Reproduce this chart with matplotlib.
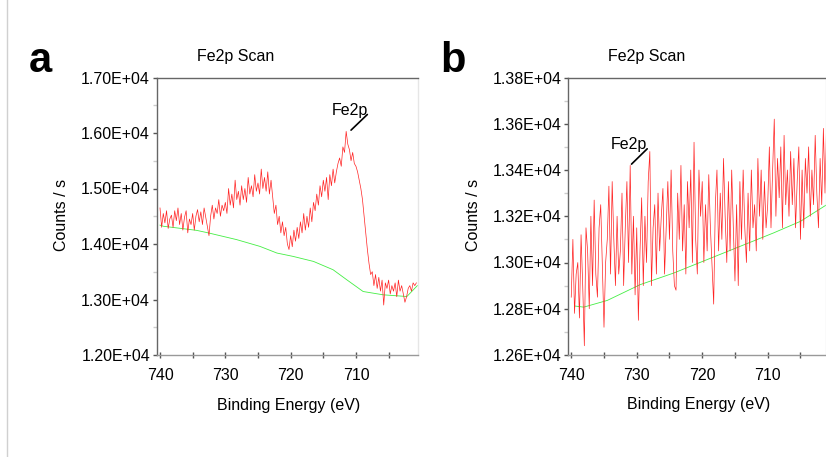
import numpy as np
import matplotlib
matplotlib.use('Agg')
import matplotlib.pyplot as plt
from matplotlib.ticker import MultipleLocator, FuncFormatter
from matplotlib.lines import Line2D

plt.rcParams['font.family'] = ['Liberation Sans', 'DejaVu Sans']
plt.rcParams['font.size'] = 11.5

# panel a: Fe2p spectrum, 0.25 eV steps from 740 eV downwards
counts_a = [
    14650, 14300, 14550, 14380, 14600, 14280, 14450, 14520,
    14300, 14600, 14420, 14650, 14350, 14550, 14250, 14480,
    14600, 14200, 14450, 14350, 14550, 14250, 14500, 14620,
    14400, 14580, 14350, 14650, 14480, 14300, 14150, 14500,
    14700, 14450, 14650, 14550, 14800, 14500, 14700, 14600,
    14750, 14550, 15000, 14700, 14900, 14650, 15150, 14800,
    14950, 14700, 15050, 14800, 15000, 14750, 15200, 14900,
    15050, 14850, 15250, 14950, 15100, 14900, 15350, 15000,
    15200, 14950, 15300, 14900, 15150, 14850, 14550, 14700,
    14350, 14500, 14200, 14400, 14150, 14300, 14000, 13900,
    14150, 13950, 14250, 14050, 14300, 14100, 14400, 14200,
    14550, 14250, 14500, 14300, 14650, 14400, 14750, 14600,
    14900, 14700, 15050, 14850, 15150, 14950, 15200, 14800,
    15250, 15050, 15350, 15100, 15300, 15450, 15550, 15400,
    15750, 15650, 16030, 15800, 15700, 15500, 15650, 15450,
    15400, 15300, 15150, 15000, 14800, 14500, 14200, 13900,
    13650, 13450, 13500, 13250, 13450, 13200, 13400, 13150,
    13350, 12900, 13300, 13200, 13350, 13100, 13250, 13150,
    13300, 13050, 13350, 13150, 13250, 13100, 12950, 13050,
    13200, 13250, 13150, 13300, 13250, 13300,
]
bg_a_energy = [740.0, 739.5, 734.4, 732.6, 728.3, 724.7, 722.1, 719.6, 716.5,
               713.5, 711.4, 708.9, 705.8, 702.2, 700.6]
bg_a_counts = [14340, 14320, 14246, 14200, 14080, 13957, 13837, 13776, 13686,
               13536, 13355, 13144, 13084, 13054, 13250]

# panel b: Fe2p spectrum, 0.25 eV steps from 740 eV downwards
counts_b = [
    12850, 13100, 12780, 12950, 13000, 12760, 13120, 12900,
    12640, 13150, 13050, 12800, 13200, 12900, 13270, 12950,
    12850, 13150, 13250, 12980, 12720, 13000, 13100, 13330,
    12950, 13350, 13100, 12900, 13200, 12950, 13050, 13300,
    12900, 13150, 13350, 13000, 13420, 12950, 13200, 12860,
    13150, 12750, 13050, 13280, 12900, 13200, 13000, 13350,
    13480, 12900, 13150, 13250, 12950, 13300, 13050, 13200,
    13320, 12950, 13150, 13350, 13100, 13400, 13050, 12900,
    12880, 13300, 13100, 13420, 13050, 13250, 12950, 13350,
    13150, 13400, 13000, 13520, 13100, 12950, 13400, 13200,
    13350, 13000, 13250, 13050, 13380, 13150, 12980, 12820,
    13250, 13400, 13050, 13300, 13100, 13450, 13200, 13000,
    13350, 13050, 13400, 13150, 12920, 13250, 12900, 13350,
    13100, 13400, 13150, 13000, 13300, 13050, 13400, 13150,
    13250, 13050, 13450, 13200, 13400, 13100, 13350, 13150,
    13250, 13500, 13150, 13400, 13620, 13200, 13450, 13280,
    13500, 13150, 13550, 13250, 13400, 13200, 13480, 13250,
    13450, 13150, 13350, 13500, 13100, 13400, 13150, 13450,
    13300, 13500, 13200, 13400, 13250, 13550, 13300, 13150,
    13450, 13250, 13580, 13300, 13620,
]
bg_b_energy = [739.5, 738.1, 734.5, 729.5, 724.4, 719.3, 714.2, 709.1, 705.0, 701.1]
bg_b_counts = [12812, 12807, 12836, 12904, 12954, 13012, 13070, 13128, 13178, 13248]

energy_a = np.linspace(740, 740 - 0.25 * (len(counts_a) - 1), len(counts_a))
energy_b = np.linspace(740, 740 - 0.25 * (len(counts_b) - 1), len(counts_b))

W, H = 826, 457
fig = plt.figure(figsize=(W / 100, H / 100), dpi=100)


def box(l, r, t, b):
    return [l / W, 1 - b / H, (r - l) / W, (b - t) / H]


def sci(v, pos):
    return '{:.2E}'.format(v)


def setup(ax, ylo, yhi, ystep, xl):
    ax.set_xlim(*xl)
    ax.set_ylim(ylo, yhi)
    ax.xaxis.set_major_locator(MultipleLocator(10))
    ax.xaxis.set_minor_locator(MultipleLocator(5))
    ax.yaxis.set_major_locator(MultipleLocator(ystep))
    ax.yaxis.set_minor_locator(MultipleLocator(ystep / 2))
    ax.yaxis.set_major_formatter(FuncFormatter(sci))
    ax.tick_params(axis='x', which='both', direction='inout', length=5,
                   width=1, color='#555555', pad=7, labelsize=11.5)
    ax.tick_params(axis='y', which='major', direction='out', length=3,
                   width=1, color='#555555', pad=2, labelsize=11.5)
    ax.tick_params(axis='y', which='minor', direction='out', length=3,
                   width=1, color='#cccccc')
    ax.spines['top'].set_color('#666666')
    ax.spines['left'].set_color('#666666')
    ax.spines['bottom'].set_color('#999999')
    ax.spines['right'].set_color('#e6e6e6')
    for s in ax.spines.values():
        s.set_linewidth(1)


ax1 = fig.add_axes(box(157, 418, 77.5, 355))
ax1.plot(bg_a_energy, bg_a_counts, color='#44ee44', lw=0.6)
ax1.plot(energy_a, counts_a, color='#ff2222', lw=0.5)
setup(ax1, 12000, 17000, 1000, (740.46, 700.5))
ax1.annotate('', xy=(711.06, 16017), xytext=(707.95, 16368),
             arrowprops=dict(arrowstyle='-', color='black', lw=1.2))
ax1.text(713.66, 16409, 'Fe2p', ha='left', va='center', fontsize=11.5)

ax2 = fig.add_axes(box(568.3, 826, 77.5, 355))
ax2.plot(bg_b_energy, bg_b_counts, color='#44ee44', lw=0.6)
ax2.plot(energy_b, counts_b, color='#ff2222', lw=0.5)
setup(ax2, 12600, 13800, 200, (740.45, 701.1))
ax2.annotate('', xy=(731.1, 13417), xytext=(728.1, 13500),
             arrowprops=dict(arrowstyle='-', color='black', lw=1.2))
ax2.text(733.94, 13510, 'Fe2p', ha='left', va='center', fontsize=11.5)

for cx, lx in [(235.5, 62), (646.6, 473)]:
    fig.text(cx / W, 1 - 56 / H, 'Fe2p Scan', ha='center', va='center', fontsize=11.5)
    fig.text(lx / W, 1 - 215 / H, 'Counts / s', ha='center', va='center',
             rotation=90, fontsize=11.5)
fig.text(288.5 / W, 1 - 405.5 / H, 'Binding Energy (eV)', ha='center', va='center')
fig.text(699 / W, 1 - 405 / H, 'Binding Energy (eV)', ha='center', va='center')
fig.text(29 / W, 1 - 72 / H, 'a', fontsize=30, fontweight='bold', ha='left', va='baseline')
fig.text(440 / W, 1 - 72 / H, 'b', fontsize=30, fontweight='bold', ha='left', va='baseline')

fig.add_artist(Line2D([7.5 / W, 7.5 / W], [0, 1], color='#d0d0d0', lw=1))

fig.savefig('out.png', dpi=100)
